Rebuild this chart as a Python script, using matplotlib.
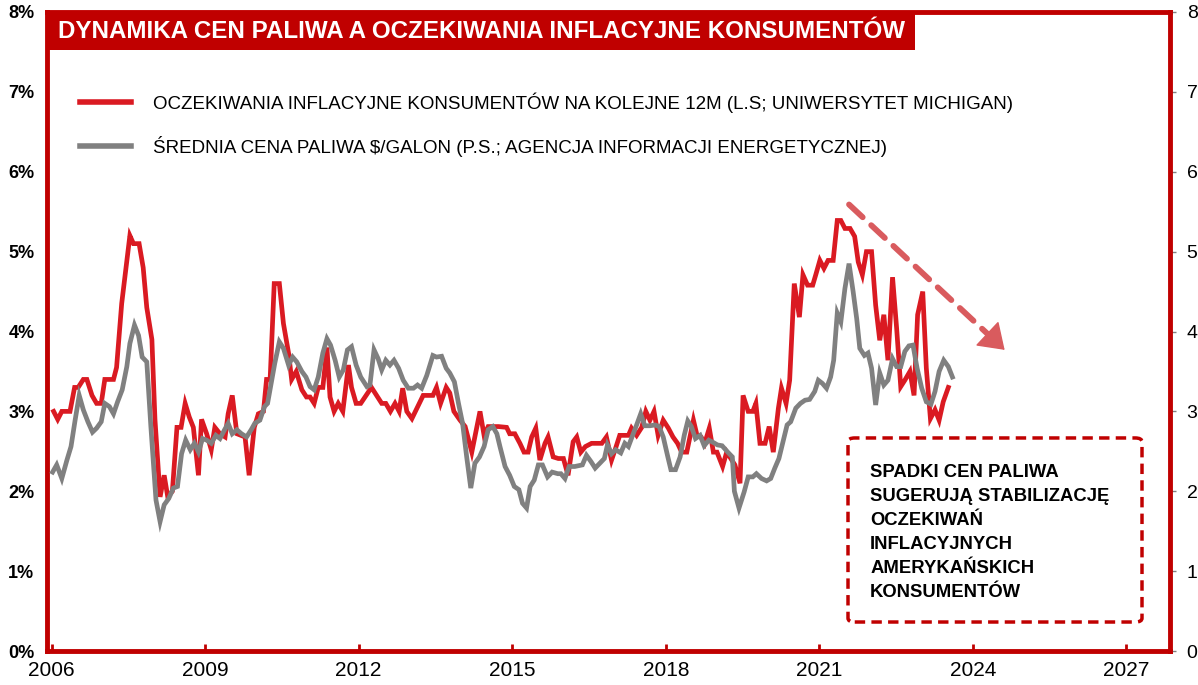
import matplotlib
matplotlib.use("Agg")
import matplotlib.pyplot as plt
from matplotlib.patches import FancyBboxPatch, Rectangle

plt.rcParams['font.family'] = ['Liberation Sans', 'DejaVu Sans']

# Oczekiwania inflacyjne (lewa oś, %)
red_years = [2006.04, 2006.12, 2006.20, 2006.36, 2006.45, 2006.52, 2006.62, 2006.69, 2006.79, 2006.88,
             2006.97, 2007.04, 2007.21, 2007.27, 2007.37, 2007.53, 2007.60, 2007.71, 2007.79, 2007.86,
             2007.96, 2008.02, 2008.12, 2008.20, 2008.27, 2008.36, 2008.45, 2008.53, 2008.61, 2008.69,
             2008.77, 2008.87, 2008.93, 2009.03, 2009.12, 2009.19, 2009.29, 2009.39, 2009.45, 2009.53,
             2009.62, 2009.78, 2009.86, 2009.96, 2010.04, 2010.14, 2010.20, 2010.27, 2010.35, 2010.45,
             2010.53, 2010.63, 2010.69, 2010.78, 2010.89, 2010.98, 2011.05, 2011.13, 2011.21, 2011.30,
             2011.38, 2011.44, 2011.52, 2011.60, 2011.69, 2011.80, 2011.86, 2011.95, 2012.04, 2012.25,
             2012.35, 2012.45, 2012.53, 2012.62, 2012.71, 2012.79, 2012.86, 2012.94, 2013.04, 2013.26,
             2013.45, 2013.52, 2013.60, 2013.71, 2013.78, 2013.86, 2013.98, 2014.08, 2014.21, 2014.37,
             2014.45, 2014.53, 2014.73, 2014.89, 2014.95, 2015.05, 2015.15, 2015.23, 2015.31, 2015.38,
             2015.46, 2015.54, 2015.64, 2015.70, 2015.80, 2015.90, 2016.00, 2016.09, 2016.19, 2016.26,
             2016.34, 2016.43, 2016.55, 2016.75, 2016.84, 2016.94, 2017.02, 2017.10, 2017.27, 2017.33,
             2017.43, 2017.53, 2017.61, 2017.69, 2017.77, 2017.85, 2017.95, 2018.05, 2018.14, 2018.23,
             2018.31, 2018.41, 2018.54, 2018.61, 2018.69, 2018.76, 2018.85, 2018.93, 2019.00, 2019.11,
             2019.19, 2019.29, 2019.35, 2019.45, 2019.51, 2019.61, 2019.70, 2019.76, 2019.84, 2019.94,
             2020.02, 2020.10, 2020.20, 2020.26, 2020.35, 2020.42, 2020.51, 2020.61, 2020.68, 2020.77,
             2020.87, 2020.93, 2021.01, 2021.09, 2021.17, 2021.27, 2021.35, 2021.42, 2021.50, 2021.60,
             2021.69, 2021.76, 2021.84, 2021.92, 2022.02, 2022.10, 2022.18, 2022.26, 2022.34, 2022.43,
             2022.51, 2022.59, 2022.67, 2022.77, 2022.85, 2022.92, 2023.02, 2023.09, 2023.17, 2023.26,
             2023.34, 2023.42, 2023.52]
red_vals = [3.0, 2.9, 3.0, 3.0, 3.3, 3.3, 3.4, 3.4, 3.2, 3.1,
            3.1, 3.4, 3.4, 3.55, 4.35, 5.2, 5.1, 5.1, 4.8, 4.3,
            3.9, 2.9, 1.93, 2.2, 1.93, 2.0, 2.8, 2.8, 3.1, 2.93,
            2.8, 2.2, 2.9, 2.72, 2.52, 2.8, 2.72, 2.68, 2.97, 3.2,
            2.72, 2.68, 2.2, 2.8, 2.97, 3.0, 3.4, 3.4, 4.6, 4.6,
            4.1, 3.73, 3.4, 3.5, 3.27, 3.18, 3.18, 3.1, 3.3, 3.3,
            3.8, 3.18, 3.0, 3.1, 3.0, 3.58, 3.3, 3.1, 3.1, 3.3,
            3.2, 3.1, 3.1, 3.0, 3.1, 3.0, 3.29, 3.0, 2.91, 3.2,
            3.2, 3.3, 3.1, 3.3, 3.23, 3.0, 2.89, 2.81, 2.49, 3.0,
            2.7, 2.81, 2.81, 2.8, 2.72, 2.72, 2.6, 2.49, 2.49, 2.68,
            2.79, 2.39, 2.6, 2.68, 2.43, 2.41, 2.41, 2.2, 2.62, 2.68,
            2.49, 2.56, 2.6, 2.6, 2.68, 2.39, 2.54, 2.7, 2.7, 2.79,
            2.7, 2.8, 3.0, 2.89, 3.0, 2.7, 2.89, 2.79, 2.68, 2.6,
            2.49, 2.49, 2.89, 2.7, 2.68, 2.6, 2.79, 2.49, 2.49, 2.31,
            2.49, 2.39, 2.33, 2.1, 3.2, 3.0, 3.0, 3.1, 2.6, 2.6,
            2.81, 2.49, 3.04, 3.29, 3.1, 3.39, 4.6, 4.18, 4.71, 4.58,
            4.58, 4.71, 4.89, 4.79, 4.89, 4.89, 5.39, 5.39, 5.29, 5.29,
            5.19, 4.87, 4.71, 5.0, 5.0, 4.33, 3.89, 4.21, 3.64, 4.68,
            4.04, 3.31, 3.39, 3.5, 3.2, 4.21, 4.5, 3.54, 2.91, 3.02,
            2.89, 3.12, 3.3]

# Średnia cena paliwa (prawa oś, $/galon)
gray_years = [2006.02, 2006.10, 2006.20, 2006.30, 2006.38, 2006.46, 2006.54, 2006.62, 2006.71, 2006.80,
              2006.88, 2006.97, 2007.04, 2007.13, 2007.21, 2007.29, 2007.38, 2007.47, 2007.53, 2007.62,
              2007.70, 2007.77, 2007.86, 2007.94, 2008.04, 2008.12, 2008.20, 2008.29, 2008.38, 2008.46,
              2008.54, 2008.62, 2008.71, 2008.79, 2008.87, 2008.95, 2009.03, 2009.12, 2009.21, 2009.29,
              2009.38, 2009.45, 2009.53, 2009.62, 2009.71, 2009.81, 2009.90, 2009.97, 2010.07, 2010.16,
              2010.22, 2010.30, 2010.36, 2010.45, 2010.53, 2010.63, 2010.71, 2010.79, 2010.89, 2010.97,
              2011.05, 2011.13, 2011.21, 2011.30, 2011.38, 2011.45, 2011.54, 2011.62, 2011.70, 2011.78,
              2011.86, 2011.95, 2012.04, 2012.16, 2012.22, 2012.30, 2012.38, 2012.45, 2012.53, 2012.61,
              2012.69, 2012.78, 2012.87, 2012.97, 2013.07, 2013.15, 2013.23, 2013.33, 2013.45, 2013.52,
              2013.62, 2013.71, 2013.78, 2013.87, 2013.95, 2014.03, 2014.11, 2014.19, 2014.27, 2014.36,
              2014.45, 2014.53, 2014.62, 2014.70, 2014.76, 2014.86, 2014.95, 2015.04, 2015.13, 2015.20,
              2015.28, 2015.35, 2015.43, 2015.51, 2015.59, 2015.69, 2015.78, 2015.89, 2015.95, 2016.03,
              2016.11, 2016.22, 2016.37, 2016.45, 2016.54, 2016.62, 2016.71, 2016.80, 2016.86, 2016.94,
              2017.02, 2017.12, 2017.20, 2017.27, 2017.34, 2017.43, 2017.51, 2017.59, 2017.69, 2017.79,
              2017.87, 2017.95, 2018.04, 2018.10, 2018.19, 2018.28, 2018.36, 2018.43, 2018.50, 2018.58,
              2018.67, 2018.75, 2018.84, 2018.93, 2019.01, 2019.10, 2019.21, 2019.30, 2019.34, 2019.43,
              2019.53, 2019.61, 2019.70, 2019.77, 2019.87, 2019.97, 2020.05, 2020.13, 2020.21, 2020.29,
              2020.37, 2020.44, 2020.54, 2020.63, 2020.72, 2020.81, 2020.91, 2020.98, 2021.06, 2021.14,
              2021.22, 2021.28, 2021.35, 2021.42, 2021.50, 2021.58, 2021.66, 2021.73, 2021.79, 2021.88,
              2021.95, 2022.02, 2022.10, 2022.18, 2022.26, 2022.34, 2022.43, 2022.51, 2022.59, 2022.67,
              2022.75, 2022.83, 2022.91, 2023.00, 2023.09, 2023.18, 2023.26, 2023.34, 2023.43, 2023.52,
              2023.60]
gray_vals = [2.24, 2.33, 2.16, 2.39, 2.56, 2.89, 3.2, 3.02, 2.87, 2.74,
             2.79, 2.87, 3.1, 3.06, 2.97, 3.12, 3.27, 3.56, 3.85, 4.08,
             3.95, 3.68, 3.62, 2.81, 1.89, 1.62, 1.83, 1.91, 2.04, 2.06,
             2.47, 2.64, 2.52, 2.6, 2.49, 2.66, 2.64, 2.6, 2.7, 2.66,
             2.77, 2.85, 2.72, 2.77, 2.72, 2.68, 2.77, 2.85, 2.89, 3.06,
             3.1, 3.39, 3.6, 3.87, 3.79, 3.58, 3.68, 3.62, 3.5, 3.43,
             3.31, 3.27, 3.43, 3.73, 3.91, 3.83, 3.64, 3.43, 3.52, 3.77,
             3.81, 3.58, 3.43, 3.31, 3.33, 3.77, 3.66, 3.52, 3.64, 3.58,
             3.64, 3.54, 3.39, 3.29, 3.29, 3.33, 3.29, 3.45, 3.7, 3.68,
             3.69, 3.54, 3.48, 3.37, 3.1, 2.85, 2.43, 2.04, 2.35, 2.43,
             2.56, 2.77, 2.81, 2.72, 2.56, 2.31, 2.2, 2.06, 2.02, 1.85,
             1.79, 2.06, 2.14, 2.33, 2.33, 2.18, 2.24, 2.22, 2.22, 2.16,
             2.31, 2.31, 2.33, 2.45, 2.37, 2.29, 2.35, 2.41, 2.58, 2.47,
             2.52, 2.48, 2.6, 2.56, 2.68, 2.83, 2.97, 2.82, 2.82, 2.83,
             2.81, 2.68, 2.43, 2.27, 2.27, 2.43, 2.7, 2.88, 2.81, 2.66,
             2.7, 2.57, 2.64, 2.61, 2.58, 2.57, 2.49, 2.43, 2.0, 1.79,
             1.99, 2.18, 2.18, 2.22, 2.16, 2.13, 2.16, 2.29, 2.41, 2.62,
             2.83, 2.87, 3.04, 3.1, 3.14, 3.15, 3.25, 3.39, 3.35, 3.29,
             3.43, 3.64, 4.23, 4.12, 4.54, 4.85, 4.5, 4.16, 3.79, 3.7,
             3.73, 3.54, 3.08, 3.48, 3.33, 3.39, 3.66, 3.56, 3.56, 3.75,
             3.82, 3.83, 3.54, 3.29, 3.12, 3.09, 3.25, 3.5, 3.64, 3.56,
             3.43]

year_ticks = [2006, 2009, 2012, 2015, 2018, 2021, 2024, 2027]
left_ticks = [0, 1, 2, 3, 4, 5, 6, 7, 8]

title = "DYNAMIKA CEN PALIWA A OCZEKIWANIA INFLACYJNE KONSUMENTÓW"
label_red = "OCZEKIWANIA INFLACYJNE KONSUMENTÓW NA KOLEJNE 12M (L.S; UNIWERSYTET MICHIGAN)"
label_gray = "ŚREDNIA CENA PALIWA $/GALON (P.S.; AGENCJA INFORMACJI ENERGETYCZNEJ)"
note = ("SPADKI CEN PALIWA\nSUGERUJĄ STABILIZACJĘ\nOCZEKIWAŃ\nINFLACYJNYCH\n"
        "AMERYKAŃSKICH\nKONSUMENTÓW")

# strzałka trendu: początek, początek grotu, koniec
arrow_start = (2021.58, 5.59)
arrow_neck = (2024.32, 3.95)
arrow_end = (2024.62, 3.77)

FRAME = "#C00000"
RED = "#DA1A22"
GRAY = "#808080"
ARROW = "#D95B5E"

fig = plt.figure(figsize=(11.98, 6.85), dpi=100)
ax = fig.add_axes([0.0392, 0.0496, 0.9374, 0.9329])
ax2 = ax.twinx()

ax.plot(red_years, red_vals, color=RED, lw=3.4, solid_joinstyle='miter', label=label_red)
ax2.plot(gray_years, gray_vals, color=GRAY, lw=3.4, solid_joinstyle='miter', label=label_gray)

ax.set_xlim(2005.91, 2027.85)
ax.set_ylim(0, 8)
ax2.set_ylim(0, 8)
ax.set_xticks(year_ticks)
ax.set_xticklabels([str(y) for y in year_ticks], fontsize=15)
ax.set_yticks(left_ticks)
ax.set_yticklabels([f"{v}%" for v in left_ticks], fontsize=13, fontweight='bold')
ax2.set_yticks(left_ticks)
ax2.set_yticklabels([str(v) for v in left_ticks], fontsize=14)

ax.tick_params(axis='x', direction='in', length=5, width=2, color=FRAME, pad=7)
ax.tick_params(axis='y', length=0, pad=9)
ax2.tick_params(axis='y', direction='out', length=4, width=1, color=GRAY, pad=8)

for name in ['left', 'bottom', 'top', 'right']:
    ax.spines[name].set_color(FRAME)
    ax.spines[name].set_linewidth(3.5)
    ax2.spines[name].set_visible(False)
ax.spines['right'].set_visible(False)
ax2.spines['right'].set_visible(True)
ax2.spines['right'].set_color(FRAME)
ax2.spines['right'].set_linewidth(3.5)

# tytuł w czerwonej ramce
fig.patches.append(Rectangle((0.0409, 0.927), 0.7229, 0.0555, transform=fig.transFigure,
                             facecolor=FRAME, edgecolor='none', zorder=5))
fig.text(0.0484, 0.9547, title, color='white', fontsize=17.4, fontweight='bold',
         va='center', ha='left', zorder=6)

leg = ax2.legend([ax.lines[0], ax2.lines[0]], [label_red, label_gray],
                 loc='upper left', bbox_to_anchor=(0.0294, 0.874), frameon=False,
                 fontsize=13.5, handlelength=2.7, handletextpad=1.2, labelspacing=1.2,
                 borderpad=0, borderaxespad=0)
for h in leg.legend_handles:
    h.set_linewidth(4)

# ramka z komentarzem
box = FancyBboxPatch((0.7133, 0.0454), 0.2618, 0.288, boxstyle="round,pad=0,rounding_size=0.006",
                     transform=ax2.transAxes, facecolor='white', edgecolor=FRAME, lw=2.5,
                     linestyle=(0, (3, 1.8)), zorder=4)
ax2.add_patch(box)
ax2.text(0.733, 0.292, note, transform=ax2.transAxes, fontsize=13.3, fontweight='bold',
         va='top', ha='left', linespacing=1.53, zorder=5)

# przerywana linia + grot
ax2.annotate('', xy=arrow_neck, xytext=arrow_start,
             arrowprops=dict(arrowstyle='-', lw=4.2, linestyle=(0, (3.2, 2.0)),
                             color=ARROW, shrinkA=0, shrinkB=0))
ax2.annotate('', xy=arrow_end, xytext=arrow_neck,
             arrowprops=dict(arrowstyle='-|>,head_length=0.8,head_width=0.55', lw=1,
                             color=ARROW, shrinkA=0, shrinkB=0, mutation_scale=20))

fig.savefig("out.png", dpi=100)
